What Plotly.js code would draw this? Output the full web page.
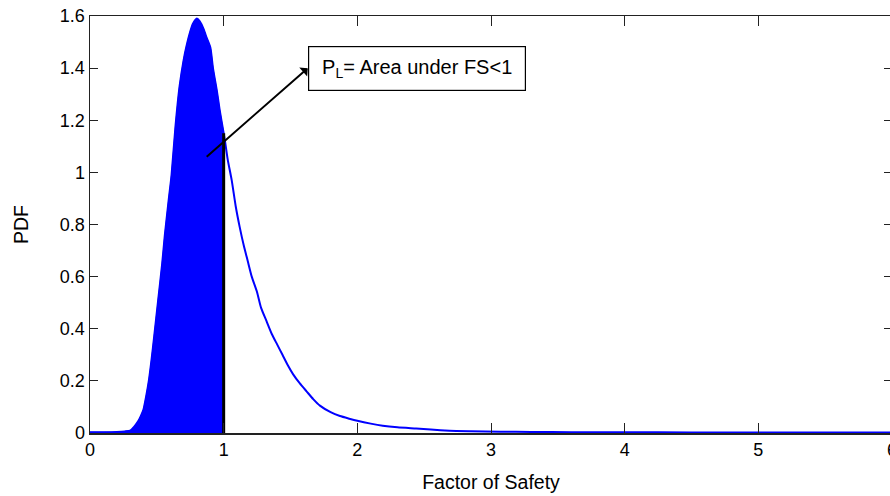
<!DOCTYPE html>
<html>
<head>
<meta charset="utf-8">
<script src="https://cdn.plot.ly/plotly-3.0.1.min.js"></script>
<style>
html, body { margin: 0; padding: 0; overflow: hidden; background: #fff; }
#chart { width: 894px; height: 496px; }
</style>
</head>
<body>
<div id="chart"></div>
<script>
// Factor of safety values and estimated PDF
const fs  = [0, 0.1, 0.2, 0.26, 0.3, 0.32, 0.34, 0.36, 0.38, 0.40, 0.42, 0.44, 0.46, 0.48, 0.51, 0.54, 0.56, 0.59, 0.61, 0.64, 0.67, 0.70, 0.72, 0.75, 0.77, 0.80, 0.82, 0.85, 0.87, 0.90, 0.92, 0.95, 0.97, 1.0,
             1.01, 1.03, 1.06, 1.09, 1.12, 1.15, 1.18, 1.21, 1.25, 1.28, 1.32, 1.36, 1.40, 1.44, 1.48, 1.52, 1.57, 1.62, 1.67, 1.72, 1.80, 1.87, 1.94, 2.0, 2.1, 2.19, 2.3, 2.44, 2.55, 2.69, 2.85, 3.07, 3.3, 3.6, 4, 4.5, 5, 5.5, 6];
const pdf = [0.003, 0.003, 0.004, 0.006, 0.009, 0.018, 0.03, 0.045, 0.065, 0.09, 0.14, 0.2, 0.28, 0.37, 0.51, 0.65, 0.76, 0.90, 0.99, 1.18, 1.33, 1.43, 1.48, 1.54, 1.57, 1.59, 1.58, 1.55, 1.52, 1.48, 1.40, 1.31, 1.24, 1.15,
             1.12, 1.05, 0.97, 0.87, 0.79, 0.72, 0.66, 0.60, 0.54, 0.48, 0.43, 0.38, 0.34, 0.30, 0.26, 0.225, 0.19, 0.16, 0.13, 0.105, 0.08, 0.065, 0.055, 0.047, 0.036, 0.028, 0.022, 0.017, 0.013, 0.009, 0.007, 0.005, 0.004, 0.003, 0.003, 0.002, 0.002, 0.002, 0.002];
const limitFS = 1.0;
const xTicks = [0, 1, 2, 3, 4, 5, 6];
const yTicks = [0, 0.2, 0.4, 0.6, 0.8, 1, 1.2, 1.4, 1.6];
const boxText = "P<sub>L</sub>= Area under FS&lt;1";
const arrowTail = [0.873, 1.06];
const boxAnchor = [1.629, 1.40];

// failure region (FS < 1)
const failX = [], failY = [];
for (let i = 0; i < fs.length; i++) {
  if (fs[i] <= limitFS) { failX.push(fs[i]); failY.push(pdf[i]); }
}
const limitPdf = pdf[fs.indexOf(limitFS)];

const traces = [
  { x: failX, y: failY, type: 'scatter', mode: 'lines', fill: 'tozeroy',
    fillcolor: '#0000ff', line: { color: '#0000ff', width: 1, shape: 'spline', smoothing: 0.6 }, hoverinfo: 'skip' },
  { x: fs, y: pdf, type: 'scatter', mode: 'lines',
    line: { color: '#0000ff', width: 2, shape: 'spline', smoothing: 0.6 } },
  { x: [limitFS, limitFS], y: [0, limitPdf], type: 'scatter', mode: 'lines',
    line: { color: '#000000', width: 3 } }
];

const fam = 'Liberation Sans, Arial, sans-serif';
const tickFont = { family: fam, size: 18, color: '#000' };
const titleFont = { family: fam, size: 19.5, color: '#000' };

const layout = {
  width: 894, height: 496,
  margin: { l: 90, r: 2, t: 16, b: 63 },
  paper_bgcolor: '#fff', plot_bgcolor: '#fff',
  showlegend: false,
  font: tickFont,
  xaxis: {
    range: [0, 6], tickvals: xTicks, ticktext: xTicks.map(String),
    ticks: 'inside', ticklen: 10, tickwidth: 1, tickcolor: '#222',
    showline: true, linecolor: '#222', linewidth: 1.5, mirror: 'ticks',
    showgrid: false, zeroline: false, tickfont: tickFont, ticklabeloverflow: 'allow',
    title: { text: 'Factor of Safety', font: titleFont, standoff: 16 }
  },
  yaxis: {
    range: [0, 1.6], tickvals: yTicks, ticktext: yTicks.map(String),
    ticks: 'inside', ticklen: 8, tickwidth: 1, tickcolor: '#222',
    showline: true, linecolor: '#222', linewidth: 1.5, mirror: 'ticks',
    showgrid: false, zeroline: false, tickfont: tickFont,
    title: { text: 'PDF', font: titleFont, standoff: 26 }
  },
  annotations: [
    { x: arrowTail[0], y: arrowTail[1], xref: 'x', yref: 'y',
      ax: boxAnchor[0], ay: boxAnchor[1], axref: 'x', ayref: 'y',
      xanchor: 'left', yanchor: 'middle',
      text: boxText, showarrow: true, arrowside: 'start', arrowhead: 2, arrowsize: 1.2, arrowwidth: 2, arrowcolor: '#000',
      font: { family: fam, size: 20, color: '#000' },
      bordercolor: '#000', borderwidth: 1.2, borderpad: 1, bgcolor: '#fff', width: 214, height: 41 }
  ]
};

Plotly.newPlot('chart', traces, layout, { displayModeBar: false, staticPlot: true });
</script>
</body>
</html>
